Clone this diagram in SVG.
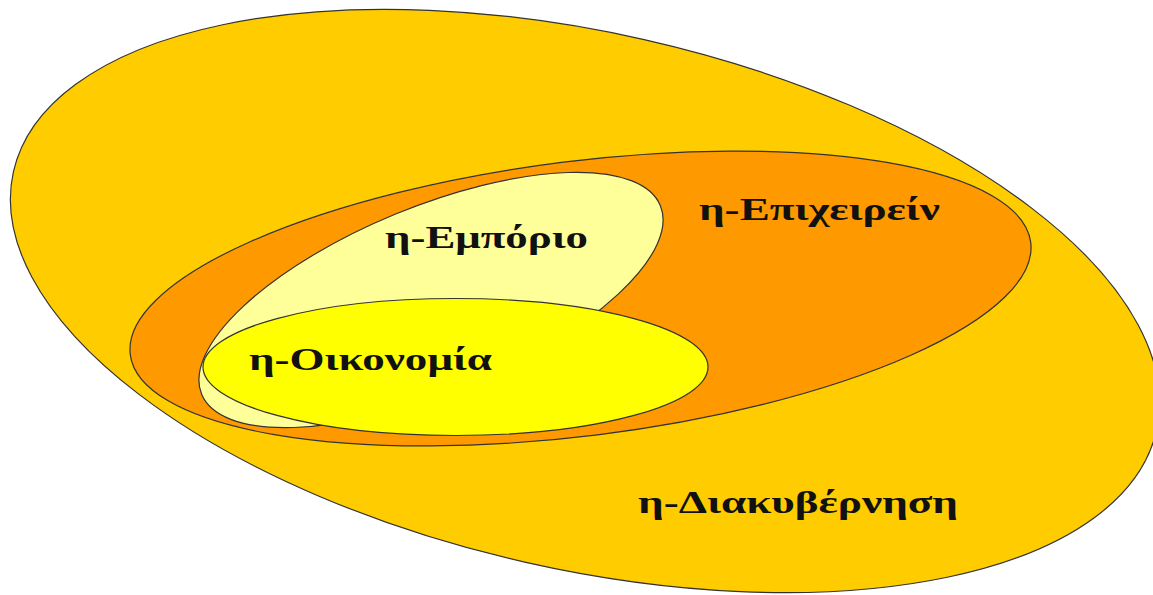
<svg xmlns="http://www.w3.org/2000/svg" width="1153" height="595" viewBox="0 0 1153 595">
<style>
.set{stroke:#333;stroke-width:1.2}
.lbl{font-family:"Liberation Serif","Times New Roman",serif;font-weight:bold;font-size:31px;fill:#111}
</style>
<rect width="1153" height="595" fill="#fff"/>
<g id="diakyvernisi">
<ellipse class="set" cx="585" cy="301" rx="586" ry="268" transform="rotate(12.75 585 301)" fill="#FFCC00"/>
<text class="lbl" x="638" y="513" textLength="320" lengthAdjust="spacingAndGlyphs">η-Διακυβέρνηση</text>
</g>
<g id="epixeirein">
<ellipse class="set" cx="580.5" cy="298.5" rx="453.7" ry="137.4" transform="rotate(-7.1 580.5 298.5)" fill="#FF9900"/>
<text class="lbl" x="699" y="220" textLength="241" lengthAdjust="spacingAndGlyphs">η-Επιχειρείν</text>
</g>
<g id="emporio">
<ellipse class="set" cx="431" cy="300" rx="248" ry="93" transform="rotate(-22.35 431 300)" fill="#FFFF99"/>
<text class="lbl" x="385" y="248" textLength="203" lengthAdjust="spacingAndGlyphs">η-Εμπόριο</text>
</g>
<g id="oikonomia">
<ellipse class="set" cx="455.5" cy="367" rx="252.5" ry="68.5" fill="#FFFF00"/>
<text class="lbl" x="249" y="370" textLength="243" lengthAdjust="spacingAndGlyphs">η-Οικονομία</text>
</g>
<g id="connectors"/>
</svg>
